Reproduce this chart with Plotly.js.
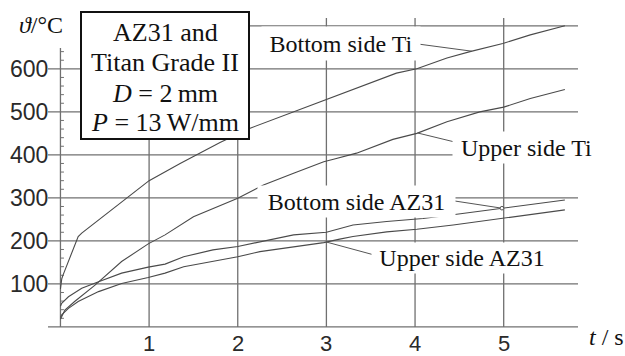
<!DOCTYPE html>
<html><head><meta charset="utf-8">
<script src="https://cdn.plot.ly/plotly-3.0.1.min.js"></script>
<style>html,body{margin:0;padding:0;background:#fff;overflow:hidden}</style>
</head><body><div id="chart" style="width:625px;height:356px"></div>
<script>
// ---- data (t in s, temperature in °C) ----
const tBottomTi   = [0, 0.015, 0.03, 0.1, 0.164, 0.2, 0.24, 0.45, 0.71, 1.0, 1.35, 1.8, 2.14, 2.63, 2.97, 3.34, 3.79, 4.02, 4.36, 4.62, 4.99, 5.3, 5.69];
const tempBottomTi= [88, 112, 121, 158, 194, 210, 218, 252, 292, 340, 380, 429, 462, 500, 528, 555, 590, 600, 625, 640, 659, 679, 700];
const tUpperTi    = [0, 0.014, 0.05, 0.16, 0.39, 0.69, 0.99, 1.18, 1.5, 2.0, 2.18, 2.29, 2.63, 2.97, 3.08, 3.34, 3.75, 4.02, 4.36, 4.73, 5.0, 5.3, 5.69];
const tempUpperTi = [18, 24, 39, 59, 97, 152, 193, 214, 256, 299, 318, 330, 357, 384, 390, 404, 436, 450, 477, 500, 511, 531, 552];
const tBottomAZ   = [0, 0.014, 0.09, 0.24, 0.43, 0.69, 0.99, 1.18, 1.39, 1.72, 2.0, 2.33, 2.63, 3.0, 3.3, 3.68, 4.09, 4.47, 4.98, 5.69];
const tempBottomAZ= [48, 55, 70, 90, 105, 125, 139, 146, 163, 179, 187, 202, 214, 220, 237, 245, 252, 262, 276, 295];
const tUpperAZ    = [0, 0.014, 0.09, 0.2, 0.43, 0.69, 0.99, 1.18, 1.39, 1.72, 2.0, 2.25, 2.63, 2.97, 3.15, 3.3, 3.68, 4.02, 4.43, 4.98, 5.69];
const tempUpperAZ = [22, 28, 43, 59, 82, 101, 115, 125, 140, 152, 163, 175, 187, 196, 204, 210, 221, 227, 237, 252, 272];

const seriesNames = ['Bottom side Ti', 'Upper side Ti', 'Bottom side AZ31', 'Upper side AZ31'];
const xTicks = [1, 2, 3, 4, 5];
const yTicks = [100, 200, 300, 400, 500, 600];
const yTopGrid = 700;
const legendLines = ['AZ31 and', 'Titan Grade II', '<i>D</i> = 2\u2009mm', '<i>P</i> = 13\u2009W/mm'];
const yTitle = '<i>\u03d1</i>/°C';
const xTitle = '<i>t</i> / s';

// ---- geometry ----
const W = 625, H = 356;
const X0 = 60.45, XS = 88.65, Y0 = 326.9, YS = 0.4301;
const xRange = [(0 - X0) / XS, (W - X0) / XS];
const yRange = [(Y0 - H) / YS, Y0 / YS];
const px = v => v / W, py = v => 1 - v / H;
const tAt = p => (p - X0) / XS, TAt = p => (Y0 - p) / YS;
function interp(ts, Ts, t) {
  for (let i = 1; i < ts.length; i++) if (t <= ts[i]) {
    const f = (t - ts[i-1]) / (ts[i] - ts[i-1]); return Ts[i-1] + f * (Ts[i] - Ts[i-1]);
  }
  return Ts[Ts.length - 1];
}

const gridColor = '#707070', curveColor = '#4a4a4a';
const serif = 'Liberation Serif, Times New Roman, serif';
const sans = 'Liberation Sans, Arial, sans-serif';

const series = [[tBottomTi, tempBottomTi], [tUpperTi, tempUpperTi], [tBottomAZ, tempBottomAZ], [tUpperAZ, tempUpperAZ]];
const traces = series.map((s, i) => ({
  x: s[0], y: s[1], name: seriesNames[i], type: 'scatter', mode: 'lines',
  line: {color: curveColor, width: 1.1}, hoverinfo: 'skip', showlegend: false
}));

const shapes = [];
const L = (x0, y0, x1, y1, color, width, layer) => shapes.push({type: 'line', xref: 'x', yref: 'y', x0, y0, x1, y1, layer: layer || 'below', line: {color, width}});
yTicks.forEach(v => L(tAt(48), v, tAt(578), v, gridColor, 1.3));
L(tAt(249), yTopGrid, tAt(578), yTopGrid, gridColor, 1.3);
xTicks.forEach(v => L(v, 0, v, TAt(18), gridColor, 1.3));
L(tAt(48), 0, tAt(578), 0, gridColor, 1.4);
L(0, 0, 0, TAt(48), gridColor, 1.3);
for (let v = 20; v <= 640; v += 20) if (v % 100) L(0, v, tAt(X0 + 3.5), v, gridColor, 1);

// legend box
shapes.push({type: 'rect', xref: 'paper', yref: 'paper', x0: px(81), x1: px(249), y0: py(139), y1: py(12), layer: 'above', fillcolor: 'white', line: {color: '#111', width: 2}});

// leaders: [series index, target t, other end pixel]
const leaders = [[0, 4.64, [418, 44]], [1, 4.03, [463, 144]], [2, 4.98, [448.3, 200]], [3, 3.0, [378, 256]]];
leaders.forEach(([si, t, p]) => {
  const T = interp(series[si][0], series[si][1], t);
  L(t, T, tAt(p[0]), TAt(p[1]), '#555', 1, 'above');
  if (si === 2) {
    [[t, T], [tAt(p[0]), TAt(p[1])]].forEach(([cx, cy]) => shapes.push({
      type: 'circle', xref: 'x', yref: 'y', xsizemode: 'pixel', ysizemode: 'pixel', xanchor: cx, yanchor: cy,
      x0: -1.8, x1: 1.8, y0: -1.8, y1: 1.8, layer: 'above', fillcolor: 'white', line: {color: '#555', width: 1}}));
  }
});

const annotations = [];
// curve labels with white background (cut gridlines)
const labelBoxes = [[341, 43.5, 158, 33], [526, 147.5, 147, 31], [356.5, 201.5, 197, 31], [462, 258, 180, 30]];
seriesNames.forEach((n, i) => {
  const b = labelBoxes[i];
  annotations.push({xref: 'paper', yref: 'paper', x: px(b[0]), y: py(b[1]), xanchor: 'center', yanchor: 'middle',
    text: n, showarrow: false, bgcolor: 'white', width: b[2], height: b[3], borderpad: 0,
    font: {family: serif, size: 24, color: '#111'}});
});
// legend text
const legendY = [32, 63, 93, 122];
legendLines.forEach((s, i) => annotations.push({xref: 'paper', yref: 'paper', x: px(165), y: py(legendY[i]),
  xanchor: 'center', yanchor: 'middle', text: s, showarrow: false, font: {family: serif, size: 26, color: '#111'}}));
// tick labels
yTicks.forEach(v => annotations.push({xref: 'paper', yref: 'y', x: px(49.5), y: v, xanchor: 'right', yanchor: 'middle',
  text: String(v), showarrow: false, font: {family: sans, size: 23, color: '#2a2a2a'}}));
xTicks.forEach(v => annotations.push({xref: 'x', yref: 'paper', x: v, y: py(343), xanchor: 'center', yanchor: 'middle',
  text: String(v), showarrow: false, font: {family: sans, size: 22, color: '#2a2a2a'}}));
// axis titles
annotations.push({xref: 'paper', yref: 'paper', x: px(41), y: py(25), xanchor: 'center', yanchor: 'middle', text: yTitle, showarrow: false, font: {family: serif, size: 24, color: '#111'}});
annotations.push({xref: 'paper', yref: 'paper', x: px(606), y: py(337), xanchor: 'center', yanchor: 'middle', text: xTitle, showarrow: false, font: {family: serif, size: 24, color: '#111'}});

const layout = {
  width: W, height: H, margin: {l: 0, r: 0, t: 0, b: 0, pad: 0},
  paper_bgcolor: 'white', plot_bgcolor: 'white', showlegend: false,
  xaxis: {range: xRange, visible: false, fixedrange: true},
  yaxis: {range: yRange, visible: false, fixedrange: true},
  shapes, annotations
};
Plotly.newPlot('chart', traces, layout, {staticPlot: true, displayModeBar: false});
</script></body></html>
